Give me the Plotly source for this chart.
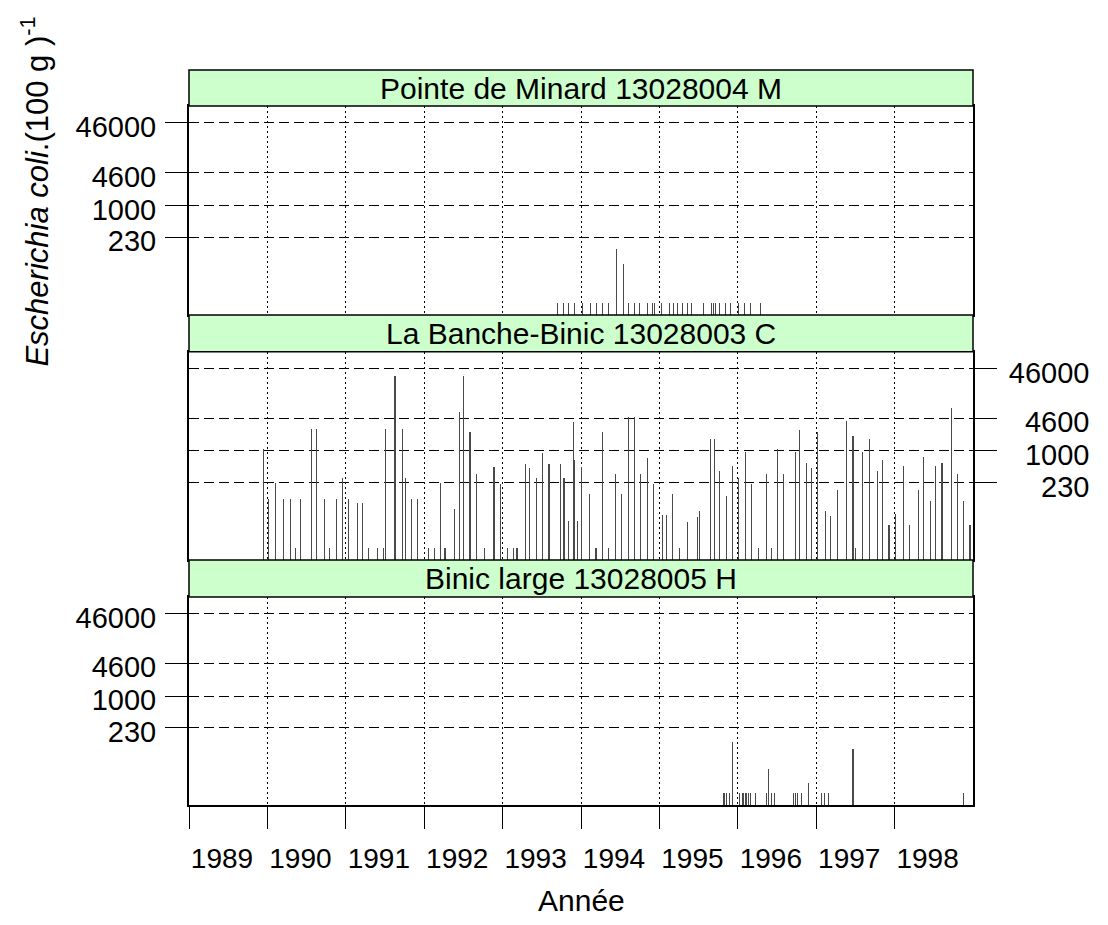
import plotly.graph_objects as go

# ---------------- data ----------------
YEARS = list(range(1989, 1999))
YEAR_LABELS = [str(y) for y in YEARS]
Y_TICKS = [230, 1000, 4600, 46000]
Y_TICK_LABELS = ["230", "1000", "4600", "46000"]

STATIONS = ["Pointe de Minard 13028004 M",
            "La Banche-Binic 13028003 C",
            "Binic large 13028005 H"]

minard_dates = [1993.702, 1993.774, 1993.843, 1993.914, 1994.016, 1994.123, 1994.200,
                1994.271, 1994.347, 1994.449, 1994.544, 1994.602, 1994.679, 1994.751,
                1994.850, 1994.908, 1994.934, 1995.028, 1995.125, 1995.185, 1995.227,
                1995.296, 1995.359, 1995.414, 1995.558, 1995.660, 1995.686, 1995.720,
                1995.771, 1995.839, 1995.908, 1996.010, 1996.090, 1996.163, 1996.290]
minard_values = [11, 11, 11, 11, 11, 11, 11,
                 11, 11, 134, 68, 11, 11, 11,
                 11, 11, 11, 11, 11, 11, 11,
                 11, 11, 11, 11, 11, 11, 11,
                 11, 11, 11, 11, 11, 11, 11]

banche_dates = [1989.946, 1990.018, 1990.108, 1990.201, 1990.294, 1990.363, 1990.421,
                1990.562, 1990.630, 1990.727, 1990.791, 1990.880, 1990.962, 1991.038,
                1991.148, 1991.212, 1991.288, 1991.399, 1991.476, 1991.510, 1991.628,
                1991.721, 1991.765, 1991.841, 1991.913, 1992.058, 1992.134, 1992.206,
                1992.266, 1992.389, 1992.448, 1992.499, 1992.584, 1992.665, 1992.767,
                1992.890, 1992.976, 1993.060, 1993.141, 1993.184, 1993.294, 1993.345,
                1993.435, 1993.511, 1993.591, 1993.735, 1993.783, 1993.837, 1993.904,
                1993.914, 1993.952, 1994.008, 1994.105, 1994.191, 1994.276, 1994.356,
                1994.437, 1994.513, 1994.607, 1994.684, 1994.760, 1994.850, 1994.930,
                1995.036, 1995.087, 1995.172, 1995.261, 1995.354, 1995.482, 1995.507,
                1995.648, 1995.699, 1995.762, 1995.852, 1995.933, 1996.010, 1996.099,
                1996.175, 1996.265, 1996.361, 1996.430, 1996.502, 1996.583, 1996.731,
                1996.787, 1996.871, 1996.944, 1997.012, 1997.119, 1997.177, 1997.272,
                1997.386, 1997.470, 1997.501, 1997.590, 1997.679, 1997.781, 1997.849,
                1997.929, 1998.015, 1998.113, 1998.193, 1998.308, 1998.368, 1998.457,
                1998.521, 1998.605, 1998.729, 1998.805, 1998.882, 1998.962]
banche_values = [1100, 110, 230, 110, 110, 11, 110,
                 2800, 2800, 110, 11, 110, 290, 110,
                 92, 92, 11, 11, 11, 2800, 33000,
                 2800, 290, 110, 110, 11, 11, 230,
                 11, 68, 6300, 33000, 2400, 355, 11,
                 470, 215, 11, 11, 11, 560, 455,
                 283, 900, 560, 560, 283, 40, 3900,
                 660, 40, 470, 134, 11, 2400, 11,
                 355, 134, 4950, 4950, 355, 716, 215,
                 51, 51, 134, 11, 37, 47, 62,
                 1780, 1800, 396, 126, 507, 290, 980,
                 215, 11, 355, 11, 1100, 355, 980,
                 2670, 583, 465, 2400, 63, 49, 162,
                 4060, 2020, 11, 980, 1800, 396, 660,
                 33, 55, 507, 33, 162, 748, 98,
                 507, 583, 7330, 355, 98, 33]

binic_dates = [1995.813, 1995.831, 1995.852, 1995.890, 1995.928, 1996.017, 1996.055,
               1996.073, 1996.094, 1996.115, 1996.137, 1996.157, 1996.222, 1996.367,
               1996.387, 1996.433, 1996.469, 1996.706, 1996.731, 1996.757, 1996.813,
               1996.902, 1997.068, 1997.101, 1997.157, 1997.470, 1998.882]
binic_values = [11, 11, 11, 11, 120, 11, 11,
                11, 11, 11, 11, 11, 11, 11,
                33, 11, 11, 11, 11, 11, 11,
                17.5, 11, 11, 11, 87, 11]

# ---------------- figure ----------------
FONT = "Liberation Sans, Arial, sans-serif"
STRIP_FILL = "#ccffcc"
BAR_COLOR = "#4a4a4a"

# (x axis id, y axis id, y-domain, strip domain, dates, values)
panels = [
    ("x3", "y3", [0.66667, 0.95102], [0.95102, 1.0], minard_dates, minard_values),
    ("x2", "y2", [0.33333, 0.61673], [0.61673, 0.66667], banche_dates, banche_values),
    ("x", "y", [0.0, 0.28299], [0.28299, 0.33333], binic_dates, binic_values),
]

fig = go.Figure()
for xa, ya, _, _, d, v in panels:
    fig.add_trace(go.Bar(x=d, y=v, xaxis=xa, yaxis=ya, width=0.002,
                         marker=dict(color=BAR_COLOR, line=dict(width=0)),
                         showlegend=False, hoverinfo="x+y"))

def yaxis_style(domain, anchor, side, labels, standoff):
    return dict(domain=domain, anchor=anchor, side=side, type="log",
                range=[0.8, 5.0], tickmode="array", tickvals=Y_TICKS,
                ticktext=labels, showgrid=True, gridcolor="black", gridwidth=1,
                griddash="10px,5px", zeroline=False, ticks="outside", ticklen=22,
                tickwidth=1, tickcolor="black", showline=True, linecolor="black",
                linewidth=2, mirror=True, automargin=False,
                ticklabelstandoff=standoff, ticklabelshift=4,
                tickfont=dict(family=FONT, size=29, color="black"))

def xaxis_style(anchor, show_labels):
    d = dict(anchor=anchor, domain=[0, 1], range=[1989, 1999], tickmode="array",
             tickvals=YEARS, ticktext=YEAR_LABELS, showgrid=True, gridcolor="black",
             gridwidth=1, griddash="2px,3px", zeroline=False, showline=True,
             linecolor="black", linewidth=2, mirror=True, automargin=False,
             tickfont=dict(family=FONT, size=28, color="black"))
    if show_labels:
        d.update(ticks="outside", ticklen=22, tickwidth=1, tickcolor="black",
                 showticklabels=True, ticklabelshift=33, ticklabelstandoff=5)
    else:
        d.update(ticks="", showticklabels=False, matches="x")
    return d

# right-aligned labels for the right-hand axis (figure spaces)
width = max(len(s) for s in Y_TICK_LABELS)
right_labels = [s.rjust(width, "\u2007") for s in Y_TICK_LABELS]

# the page body adds an 8px offset, so the figure is 8px smaller on each axis
layout = dict(
    width=1100, height=917,
    margin=dict(l=181, r=135, t=62, b=120),
    paper_bgcolor="white", plot_bgcolor="white",
    barmode="overlay", bargap=0,
    xaxis=xaxis_style("y", True),
    xaxis2=xaxis_style("y2", False),
    xaxis3=xaxis_style("y3", False),
    yaxis=yaxis_style(panels[2][2], "x", "left", Y_TICK_LABELS, 3),
    yaxis2=yaxis_style(panels[1][2], "x2", "right", right_labels, 6),
    yaxis3=yaxis_style(panels[0][2], "x3", "left", Y_TICK_LABELS, 3),
)
fig.update_layout(**layout)

shapes = []
annotations = []
for (xa, ya, dom, sdom, _, _), name in zip(panels, STATIONS):
    shapes.append(dict(type="rect", xref="paper", yref="paper", x0=0, x1=1,
                       y0=sdom[0], y1=sdom[1], fillcolor=STRIP_FILL,
                       line=dict(color="black", width=1.5), layer="above"))
    annotations.append(dict(text=name, xref="paper", yref="paper", x=0.5,
                            y=(sdom[0] + sdom[1]) / 2, xanchor="center",
                            yanchor="middle", showarrow=False,
                            font=dict(family=FONT, size=30, color="black")))

annotations.append(dict(text="<i>Escherichia coli</i>.(100 g )<sup>-1</sup>",
                        xref="paper", yref="paper", x=-0.197, y=0.834,
                        xanchor="center", yanchor="middle", textangle=-90,
                        showarrow=False,
                        font=dict(family=FONT, size=31, color="black")))
annotations.append(dict(text="Année", xref="paper", yref="paper", x=0.5, y=-0.1306,
                        xanchor="center", yanchor="middle", showarrow=False,
                        font=dict(family=FONT, size=30, color="black")))

fig.update_layout(shapes=shapes, annotations=annotations)
fig.write_html("out.html")
